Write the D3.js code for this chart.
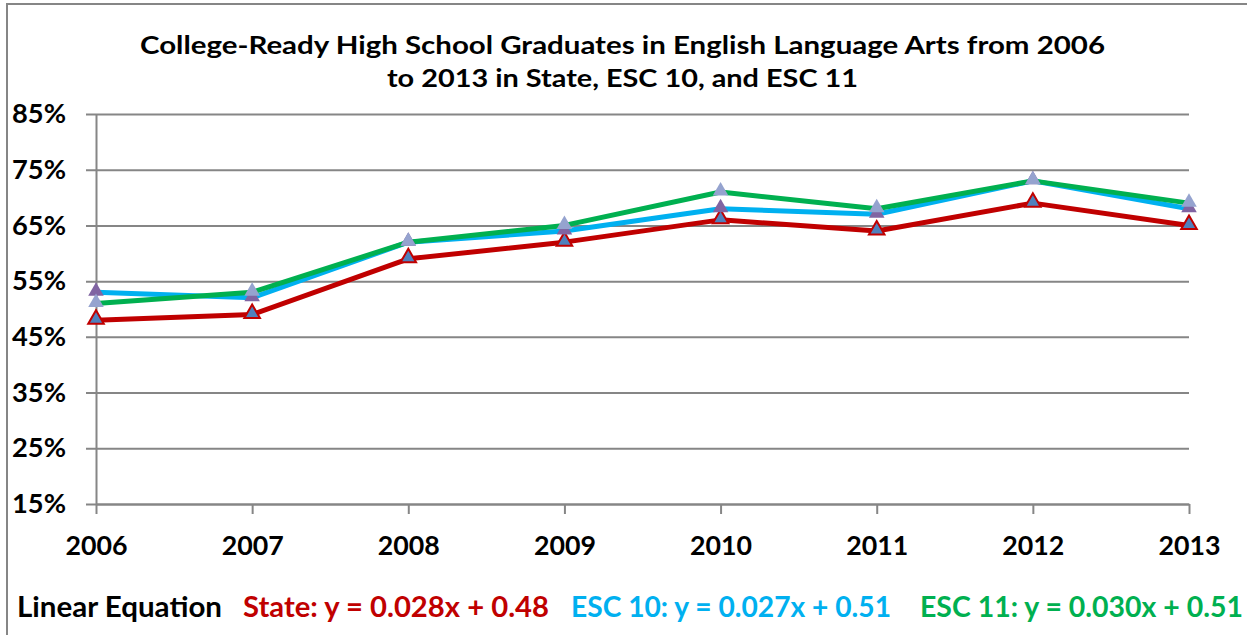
<!DOCTYPE html>
<html><head><meta charset="utf-8">
<script src="https://cdn.jsdelivr.net/npm/d3@7"></script>
<style>
html,body{margin:0;padding:0;background:#fff;}
svg{display:block;font-family:Lato,"Open Sans",sans-serif;font-weight:bold;}
</style></head>
<body>
<svg id="chart" width="1252" height="635"></svg>
<script>
const years = ["2006","2007","2008","2009","2010","2011","2012","2013"];
const stateVals = [0.48,0.49,0.59,0.62,0.66,0.64,0.69,0.65];
const esc10Vals = [0.53,0.52,0.62,0.64,0.68,0.67,0.73,0.68];
const esc11Vals = [0.51,0.53,0.62,0.65,0.71,0.68,0.73,0.69];
const yTicks = [0.15,0.25,0.35,0.45,0.55,0.65,0.75,0.85];
const titleLines = ["College-Ready High School Graduates in English Language Arts from 2006","to 2013 in State, ESC 10, and ESC 11"];
const legendLabel = "Linear Equation";
const equations = ["State: y = 0.028x + 0.48","ESC 10: y = 0.027x + 0.51","ESC 11: y = 0.030x + 0.51"];

const series = [
  {name:"State", values:stateVals, color:"#C00000", mfill:"#4F81BD", mstroke:"#C00000"},
  {name:"ESC 10", values:esc10Vals, color:"#00B0F0", mfill:"#8064A2", mstroke:"none"},
  {name:"ESC 11", values:esc11Vals, color:"#00B050", mfill:"#95A3CF", mstroke:"none"}
];

const svg = d3.select("#chart");
const x0 = 96, x1 = 1189, yTop = 114, yBot = 504;
const x = d3.scalePoint().domain(years).range([x0, x1]);
const y = d3.scaleLinear().domain([0.15, 0.85]).range([yBot, yTop]);

// outer border (left & top)
svg.append("path").attr("d","M7,635V4H1247").attr("fill","none").attr("stroke","#868686").attr("stroke-width",2);

// title
const titleX = [[140,1105],[387,858]];
const titleY = [54, 87];
titleLines.forEach((t,i)=>{
  svg.append("text").attr("x",titleX[i][0]).attr("y",titleY[i])
    .attr("font-size",25).attr("fill","#000")
    .attr("textLength",titleX[i][1]-titleX[i][0]).attr("lengthAdjust","spacingAndGlyphs")
    .text(t);
});

// y axis with gridlines
const yAxis = svg.append("g").attr("transform",`translate(${x0},0)`)
  .call(d3.axisLeft(y).tickValues(yTicks).tickFormat(d3.format(".0%"))
        .tickSizeInner(-(x1-x0)).tickSizeOuter(0).tickPadding(20));
yAxis.select(".domain").attr("stroke","#868686").attr("stroke-width",2);
yAxis.selectAll(".tick line").attr("x1",-10).attr("stroke","#868686").attr("stroke-width",2);
yAxis.selectAll(".tick text").attr("font-size",27).attr("font-family","Lato, sans-serif").attr("font-weight","bold")
  .attr("fill","#000").attr("x",-30).attr("textLength",54).attr("lengthAdjust","spacingAndGlyphs");

// x axis
const xAxis = svg.append("g").attr("transform",`translate(0,${yBot})`)
  .call(d3.axisBottom(x).tickSizeInner(10).tickSizeOuter(0).tickPadding(20));
xAxis.select(".domain").attr("stroke","#868686").attr("stroke-width",2);
xAxis.selectAll(".tick line").attr("stroke","#868686").attr("stroke-width",2);
xAxis.selectAll(".tick text").attr("font-size",27).attr("font-family","Lato, sans-serif").attr("font-weight","bold")
  .attr("fill","#000").attr("dy","0").attr("y",51).attr("textLength",62).attr("lengthAdjust","spacingAndGlyphs");

// lines
const line = d3.line().x((d,i)=>x(years[i])).y(d=>y(d));
series.forEach(s=>{
  svg.append("path").datum(s.values).attr("d",line)
    .attr("fill","none").attr("stroke",s.color).attr("stroke-width",5).attr("stroke-linejoin","round");
});
// markers
const tri = d3.symbol().type(d3.symbolTriangle).size(105);
series.forEach(s=>{
  svg.append("g").selectAll("path").data(s.values).join("path")
    .attr("d",tri).attr("transform",(d,i)=>`translate(${x(years[i])},${y(d)-1})`)
    .attr("fill",s.mfill).attr("stroke",s.mstroke).attr("stroke-width",s.mstroke==="none"?0:2);
});

// legend / equations
const legX = [[17,222],[243,549],[571,891],[920,1243]];
const legTexts = [legendLabel].concat(equations);
const legColors = ["#000"].concat(series.map(s=>s.color));
legTexts.forEach((t,i)=>{
  svg.append("text").attr("x",legX[i][0]).attr("y",617).attr("font-size",29)
    .attr("fill",legColors[i]).attr("textLength",legX[i][1]-legX[i][0]).attr("lengthAdjust","spacingAndGlyphs")
    .text(t);
});
</script>
</body></html>
